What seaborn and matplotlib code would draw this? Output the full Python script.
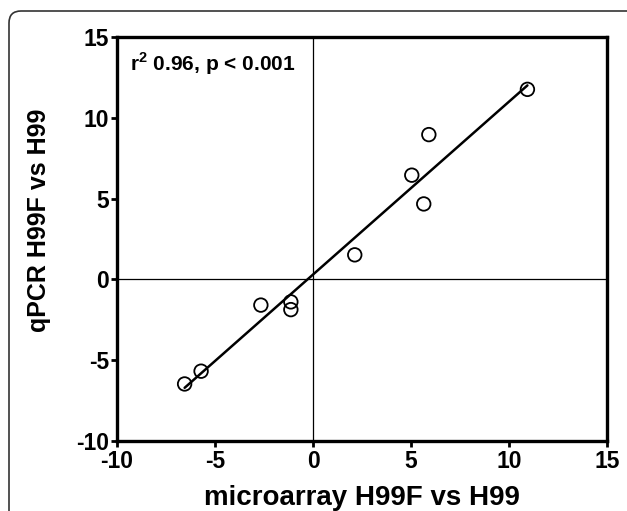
import matplotlib
matplotlib.use('Agg')
import matplotlib.pyplot as plt
import matplotlib.transforms as mtransforms
from matplotlib.patches import FancyBboxPatch
import pandas as pd
import seaborn as sns

# values
microarray = [-6.55, -5.71, -2.66, -1.13, -1.13, 2.13, 5.04, 5.65, 5.91, 10.94]
qpcr = [-6.47, -5.68, -1.59, -1.39, -1.87, 1.52, 6.45, 4.67, 8.96, 11.76]
x_ticks = [-10, -5, 0, 5, 10, 15]
y_ticks = [-10, -5, 0, 5, 10, 15]
annot = r'r$^\mathbf{2}$ 0.96, p < 0.001'

df = pd.DataFrame({'microarray': microarray, 'qpcr': qpcr})

sns.set_style('white')
plt.rcParams['font.family'] = ['Liberation Sans', 'DejaVu Sans']
plt.rcParams['font.weight'] = 'bold'
plt.rcParams['mathtext.fontset'] = 'custom'
plt.rcParams['mathtext.bf'] = 'Liberation Sans:bold'
plt.rcParams['mathtext.rm'] = 'Liberation Sans:bold'
plt.rcParams['axes.unicode_minus'] = False
for key in ['text.color', 'axes.labelcolor', 'xtick.color', 'ytick.color']:
    plt.rcParams[key] = 'black'

fig = plt.figure(figsize=(6.27, 5.11), dpi=100)
ax = fig.add_axes([117 / 627, 1 - 441 / 511, 490 / 627, 404 / 511])

ax.axhline(0, color='black', lw=0.9, zorder=1)
ax.axvline(0, color='black', lw=0.9, zorder=1)

sns.regplot(data=df, x='microarray', y='qpcr', ci=None, scatter=False,
            truncate=True, color='black', line_kws={'lw': 1.8, 'zorder': 2}, ax=ax)
sns.scatterplot(data=df, x='microarray', y='qpcr', s=95, marker='o',
                facecolor='none', edgecolor='black', linewidth=1.3, zorder=3, ax=ax)

ax.set_xlim(-10, 15)
ax.set_ylim(-10, 15)
ax.set_xticks(x_ticks)
ax.set_yticks(y_ticks)
ax.tick_params(axis='both', direction='out', length=4.5, width=2, labelsize=16.5,
               bottom=True, left=True)
ax.tick_params(axis='x', pad=2)
ax.tick_params(axis='y', pad=1)
for lab in ax.get_xticklabels() + ax.get_yticklabels():
    lab.set_fontweight('bold')
for side in ['left', 'bottom', 'top', 'right']:
    ax.spines[side].set_linewidth(2.4)
    ax.spines[side].set_color('black')

ax.set_xlabel('')
ax.set_ylabel('')
fig.text(362 / 627, 6 / 511, 'microarray H99F vs H99', fontsize=20,
         fontweight='bold', ha='center', va='baseline')
fig.text(39 / 627, 1 - 220 / 511, 'qPCR H99F vs H99', fontsize=18,
         fontweight='bold', rotation=90, ha='center', va='center')

fig.text(130 / 627, 1 - 70.7 / 511, annot, fontsize=15,
         fontweight='bold', ha='left', va='baseline')

# rounded frame around the figure panel
frame = FancyBboxPatch((9, -60), 700, 560, boxstyle='round,pad=0,rounding_size=12',
                       transform=mtransforms.IdentityTransform(), fill=False,
                       edgecolor='#333333', lw=1.2, clip_on=False)
fig.patches.append(frame)

fig.savefig('out.png', dpi=100)
